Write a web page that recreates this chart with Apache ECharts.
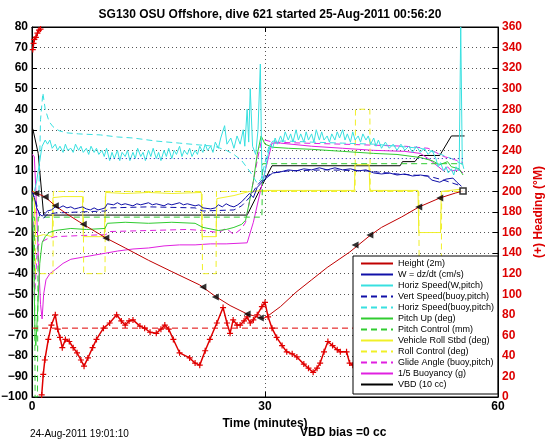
<!DOCTYPE html>
<html><head><meta charset="utf-8">
<script src="https://cdn.jsdelivr.net/npm/echarts@6/dist/echarts.min.js"></script>
<style>html,body{margin:0;padding:0;background:#fff}#c{width:546px;height:442px}</style>
</head><body><div id="c"></div>
<script>
// ---- data (time in minutes, values on left axis unless noted) ----
const xTicks = [0, 30, 60];
const height = [[0,0],[0.3,-0.5],[0.5,-1],[1.0,-1.5],[1.7,-2.7],[3.0,-7],[4.5,-11],[6.6,-16],[9.5,-22.6],[12,-27.5],[15,-33.5],[18,-39],[21.6,-45.5],[23.6,-51],[25.5,-55.5],[27.7,-59.6],[29.0,-61],[29.8,-61.8],[30.4,-60.5],[32,-56],[34,-49],[36,-43],[38,-37],[40.9,-29.5],[43.5,-21.5],[45,-17.5],[47.6,-12.4],[49.8,-7.6],[52.5,-3.2],[54.5,-0.8],[55.5,0.2]];
const heightMarks = [[0.5,-1],[1.7,-2.7],[3.0,-7],[6.6,-16],[9.5,-22.6],[22,-46.5],[23.6,-51.3],[27.7,-59.6],[29.4,-61.6],[41.6,-26],[43.5,-21.2],[49.8,-7.6],[52.5,-3.2]];
const heightEnd = [[55.5,0.2]];
const wSpeed = [[0,0],[0.3,-3],[0.6,-8],[1.0,-11],[1.3,-12],[1.6,-11],[2.0,-9.5],[2.5,-9],[3,-7.5],[3.5,-8],[4,-7],[4.5,-8],[5,-7.5],[5.5,-8.5],[6,-8],[6.5,-7.5],[7,-8.5],[7.5,-9],[8,-8],[8.5,-9],[9,-8.5],[9.4,-8],[9.7,-6],[10.5,-6.5],[11,-5.5],[11.5,-6.5],[12,-6],[13,-7],[13.5,-6],[14,-6.5],[15,-5.5],[15.5,-6.5],[16,-6],[17,-7],[17.5,-6],[18,-6.5],[19,-5.5],[19.5,-6.5],[20,-6],[21,-7],[21.5,-6.5],[22,-8],[23,-8.5],[23.6,-8],[24,-6.5],[24.5,-7.5],[25,-6],[25.5,-7],[26,-7.5],[26.5,-6.5],[27,-5],[27.5,-3],[28,-1],[28.5,-3],[29,2],[29.5,4],[30,6],[31,9],[32,9.5],[33,10.5],[34,10],[35,11],[36,10.5],[37,11.5],[38,10.5],[39,11.5],[40,10.5],[41,11],[42,10],[43,10.5],[44,9],[45,8.5],[46,9],[47,8],[48,8.5],[49,7.5],[50,8],[50.9,7.5],[51.5,5.5],[52.5,4.5],[53.3,6],[54.2,6.5],[54.7,4.5],[55.3,2.5]];
const horizW = [[0.3,0],[0.6,5],[1,15],[1.3,22],[1.7,25],[2,23],[2.3,25],[2.6,21],[3,23],[3.3,20],[3.6,22],[4,19],[4.3,23],[4.6,20],[5,21],[5.3,19],[5.6,23],[6,20],[6.3,22],[6.6,19],[7,21],[7.3,18],[7.6,22],[8,19],[8.3,21],[8.6,18],[9,20],[9.3,17],[9.6,21],[10,15],[10.3,19],[10.6,16],[11,20],[11.3,15],[11.6,19],[12,17],[12.3,20],[12.6,15],[13,19],[13.3,16],[13.6,21],[14,17],[14.3,19],[14.6,15],[15,20],[15.3,17],[15.6,21],[16,16],[16.3,19],[16.6,15],[17,20],[17.3,17],[17.6,21],[18,16],[18.3,20],[18.6,18],[19,22],[19.3,17],[19.6,20],[20,18],[20.3,21],[20.6,17],[21,20],[21.3,18],[21.6,22],[22,19],[22.3,23],[22.6,20],[23,22],[23.3,19],[23.6,24],[24,21],[24.3,26],[24.8,32],[25.1,23],[25.6,26],[26,21],[26.4,27],[26.8,23],[27.2,30],[27.4,22],[27.7,40],[27.9,24],[28.1,50],[28.4,22],[28.8,18],[29.1,30],[29.4,62],[29.6,8],[29.8,5],[30.1,12],[30.4,18],[30.7,23],[31,21],[31.3,26],[31.6,23],[32,27],[32.3,24],[32.6,29],[33,25],[33.3,28],[33.6,24],[34,30],[34.3,25],[34.6,28],[35,24],[35.3,29],[35.6,25],[36,28],[36.3,24],[36.6,30],[37,25],[37.3,29],[37.6,25],[38,27],[38.3,24],[38.6,28],[39,25],[39.3,29],[39.6,26],[40,30],[40.3,25],[40.6,28],[41,24],[41.3,29],[41.6,25],[42,27],[42.3,24],[42.6,28],[43,25],[43.3,27],[43.6,23],[44,26],[44.3,22],[44.6,25],[45,21],[45.5,24],[46,21],[46.5,23],[47,20],[47.5,23],[48,20],[48.5,22],[49,19],[49.5,22],[50,19],[50.5,21],[51,18],[51.5,20],[52,16],[52.3,12],[52.6,14],[53,10],[53.3,12],[53.6,9],[54,11],[54.3,8],[54.6,12],[55,10],[55.2,80],[55.4,14],[55.6,11]];
const vertBuoy = [[0,0],[0.5,-5],[1,-12],[1.5,-13],[2,-11],[3,-10.5],[6,-10],[9.5,-9.5],[10,-8],[15,-7.5],[21,-8],[22,-9.5],[26,-9],[27,-7],[28,-3],[29,3],[30,7],[31,9],[33,10],[38,10.5],[43,10],[47,8.5],[51,7.5],[53,5.5],[55,3]];
const horizBuoy = [[0.9,0],[1.1,35],[1.4,48],[1.7,40],[2.2,34],[2.7,31.5],[3.5,29.5],[4.5,28.5],[6,28],[8.8,27.5],[11,26.5],[13,26],[16,24.5],[19,23.5],[21.6,22.6],[23.5,22],[25,20],[26,18],[27,15],[28,10],[29,4],[29.5,6],[30,14],[30.5,22],[31,24.5],[33,24.5],[36,24],[40,23.5],[44,23],[47,22],[50,21],[52,19],[54,16],[55.5,13]];
const pitchUp = [[0,0],[0.2,-30],[0.4,-72],[0.5,-75],[0.7,-60],[1,-35],[1.3,-25],[1.7,-22],[2.2,-20],[3,-19],[5,-18],[7,-18.5],[9.4,-18],[9.7,-15.5],[12,-15],[15,-15.5],[18,-15],[21,-15.5],[22,-17.5],[24,-19],[25,-18.5],[26,-17.5],[27,-16],[27.5,-14],[28,-5],[28.5,5],[29,18],[29.5,27],[30,23],[31,21.5],[33,21],[36,20.5],[40,19.5],[44,18.5],[47,18],[50,16.5],[51.5,15],[52.5,13],[53.5,14.5],[54,12],[55,11],[55.5,8]];
const pitchCtl = [[0,-12.5],[0.3,-12.5],[0.4,-100],[0.7,-100],[0.8,-12.5],[27.6,-12.5],[29.6,-12.5],[29.7,13.5],[55.5,13.5]];
const roll = [[0,0],[0.3,-5],[0.45,-22],[1.5,-21],[2.6,-22],[2.7,-3],[4,-2.5],[6.5,-2.5],[6.6,-22],[9.3,-22],[9.5,-0.5],[12,-1],[15,-0.5],[18,-1],[21.8,-0.5],[21.9,-22],[23.7,-22],[23.8,-3.5],[26,-2],[28,0],[30,0.5],[35,0.5],[41.5,0.5],[41.6,13],[43.4,13],[43.5,0.5],[49.7,0.5],[49.8,-20],[52.6,-20],[52.7,0],[55,1],[55.5,0]];
const rollCtl = [[0,0],[0.4,0],[0.45,-40],[2.7,-40],[2.75,0],[6.6,0],[6.65,-40],[9.4,-40],[9.45,0],[21.9,0],[21.95,-40],[23.7,-40],[23.75,0],[41.6,0],[41.65,40],[43.5,40],[43.55,0],[49.8,0],[49.85,-40],[52.7,-40],[52.75,0],[55.5,0]];
const glide = [[0,0],[0.2,-20],[0.3,-53],[0.5,-40],[0.7,-27],[1,-25],[1.5,-24],[2,-23],[3,-22],[6,-21.5],[9.5,-21],[10,-19.5],[15,-19],[20,-18.5],[22,-19],[24,-20],[25,-18],[26,-21],[27,-18],[27.5,-15],[28,-5],[28.5,5],[29,15],[29.5,24],[30,25],[31,24],[35,23.5],[40,23],[44,22.5],[48,22],[51,21],[52,19],[53,17],[54,16],[55.5,14]];
const buoyancy = [[0,18],[0.3,17],[0.5,0],[0.8,-30],[1.1,-55],[1.3,-62],[1.5,-50],[1.8,-43],[2.3,-40],[3,-38],[4,-35],[5,-33],[6.5,-32],[8,-31],[9.5,-30],[11,-29],[13,-28],[15,-27.5],[17,-26.5],[19,-26],[21,-26],[23,-25.5],[25,-25.5],[27.7,-25],[28.5,-15],[29.7,5],[30.9,23.5],[32,23.5],[36,22],[40,21],[44,20],[48,19.5],[50,18.5],[51,16],[52,13],[53,10],[53.5,12],[54,10],[55,10.5],[55.5,9]];
const vbd = [[0.1,30.5],[0.8,18.5],[1.5,-11.5],[27.7,-11.5],[30.9,12.5],[47.4,12.5],[47.7,14.5],[49.3,14.5],[49.9,17.5],[52.5,17.5],[54,27],[55.7,27]];
const speedRef = [[9.5,16],[55.5,16]];
// heading, degrees on right axis
const headingTop = [[0.1,338],[0.2,344],[0.3,348],[0.5,350],[0.7,354],[0.9,357],[1.1,358]];
const heading = [[1.25,2],[1.45,22],[1.65,36],[2.1,56],[2.5,70],[3.0,80],[3.3,66],[3.6,58],[3.9,48],[4.3,56],[4.8,54],[5.3,48],[5.8,43],[6.3,36],[6.7,30],[7.2,38],[7.8,48],[8.3,56],[9.2,67],[10.0,72],[10.9,80],[11.5,74],[12.0,70],[12.5,74],[13.0,75],[13.9,69],[14.5,67],[15.2,63],[16.0,62],[16.6,66],[17.1,70],[17.6,66],[18.2,56],[19.0,43],[20.3,38],[21.0,33],[21.6,31],[22.3,45],[22.9,56],[23.8,72],[24.6,87],[25.1,72],[25.5,62],[25.9,75],[26.4,70],[26.8,70],[27.3,74],[27.7,78],[28.1,72],[28.5,75],[29.0,80],[29.6,88],[30.0,92],[30.4,78],[30.9,67],[31.5,58],[32.2,50],[32.8,44],[33.5,42],[34.1,39],[35.0,32],[35.6,28],[36.2,24],[36.7,28],[37.1,33],[37.6,44],[38.1,54],[38.7,50],[39.3,46],[39.7,44],[40.5,44],[40.9,33],[41.3,31]];
const headingRef = [[0,67],[55.5,67]];

const names = ['Height (2m)','W = dz/dt (cm/s)','Horiz Speed(W,pitch)','Vert Speed(buoy,pitch)','Horiz Speed(buoy,pitch)','Pitch Up (deg)','Pitch Control (mm)','Vehicle Roll Stbd (deg)','Roll Control (deg)','Glide Angle (buoy,pitch)','1/5 Buoyancy (g)','VBD (10 cc)'];

const DASH = [6,4];
function ln(name, data, color, dashed, extra) {
  return Object.assign({
    name, type: 'line', data, symbol: 'none', showSymbol: false,
    lineStyle: { color, width: 1, type: dashed ? DASH : 'solid' },
    itemStyle: { color }, animation: false, xAxisIndex: 0, yAxisIndex: 0
  }, extra || {});
}
const PLUS = 'path://M2,0H3V2H5V3H3V5H2V3H0V2H2Z';
const series = [
  ln(names[11], vbd, '#000000', false, {z: 2}),
  ln(names[10], buoyancy, '#e020e0', false),
  ln(names[9], glide, '#e020e0', true),
  ln(names[8], rollCtl, '#f0f028', true),
  ln(names[7], roll, '#f0f028', false),
  ln(names[6], pitchCtl, '#30cc30', true),
  ln(names[5], pitchUp, '#30cc30', false),
  ln(names[4], horizBuoy, '#38e0e0', true),
  ln(names[3], vertBuoy, '#1010a8', true),
  ln(names[2], horizW, '#38e0e0', false),
  ln(names[1], wSpeed, '#1010a8', false),
  ln('spdref', speedRef, '#1010a8', false, {lineStyle:{color:'#1010a8', width:1, type:[1,3]}}),
  ln(names[0], height, '#c00000', false, {z: 3}),
  { name: 'hmarks', type: 'scatter', data: heightMarks, symbol: 'triangle', symbolSize: 7, symbolRotate: 90,
    itemStyle: { color: '#000' }, z: 4, animation: false },
  { name: 'hend', type: 'scatter', data: heightEnd, symbol: 'rect', symbolSize: 6,
    itemStyle: { color: '#fff', borderColor: '#000', borderWidth: 1.5 }, z: 4, animation: false },
  ln('hdgref', headingRef, '#e00000', true, {yAxisIndex: 1}),
  { name: 'hdg1', type: 'line', yAxisIndex: 1, data: headingTop, symbol: PLUS, symbolSize: 6, showSymbol: true,
    lineStyle: { color: '#e00000', width: 1.5 }, itemStyle: { color: '#e00000' }, animation: false },
  { name: 'hdg2', type: 'line', yAxisIndex: 1, data: heading, symbol: PLUS, symbolSize: 6, showSymbol: true,
    lineStyle: { color: '#e00000', width: 1.5 }, itemStyle: { color: '#e00000' }, animation: false }
];

const fmtMinus = v => String(v).replace('-', '\u2212');
const chart = echarts.init(document.getElementById('c'), null, { renderer: 'canvas' });
chart.setOption({
  backgroundColor: '#fff',
  animation: false,
  title: { text: 'SG130 OSU Offshore, dive 621 started 25-Aug-2011 00:56:20', left: 265, textAlign: 'center', top: 4,
    textStyle: { fontFamily: 'Liberation Sans', fontSize: 12, fontWeight: 'bold', color: '#000' } },
  grid: { left: 32, right: 48, top: 27, bottom: 45, show: true, borderColor: '#000', borderWidth: 1, backgroundColor: '#fff',
    containLabel: false, outerBoundsMode: 'none' },
  xAxis: [{
    type: 'value', min: xTicks[0], max: xTicks[2], interval: 30, position: 'bottom',
    name: 'Time (minutes)', nameLocation: 'middle', nameGap: 20,
    nameTextStyle: { fontFamily: 'Liberation Sans', fontSize: 12, fontWeight: 'bold', color: '#000' },
    axisLine: { show: true, onZero: false, lineStyle: { color: '#000' } },
    axisTick: { inside: true, length: 5, lineStyle: { color: '#000' } },
    axisLabel: { fontFamily: 'Liberation Sans', fontSize: 12, fontWeight: 'bold', color: '#000', margin: 4 },
    splitLine: { show: true, lineStyle: { color: '#555', type: [1, 3] } }
  }, {
    type: 'value', min: xTicks[0], max: xTicks[2], interval: 30, position: 'top',
    axisLine: { show: true, onZero: false, lineStyle: { color: '#000' } },
    axisTick: { inside: true, length: 5, lineStyle: { color: '#000' } },
    axisLabel: { show: false }, splitLine: { show: false }
  }],
  yAxis: [{
    type: 'value', min: -100, max: 80, interval: 10, position: 'left',
    axisLine: { show: true, onZero: false, lineStyle: { color: '#000' } },
    axisTick: { show: true, inside: true, length: 5, lineStyle: { color: '#000' } },
    axisLabel: { fontFamily: 'Liberation Sans', fontSize: 12, fontWeight: 'bold', color: '#000', margin: 4, formatter: fmtMinus },
    splitLine: { show: true, lineStyle: { color: '#555', type: [1, 3] } }
  }, {
    type: 'value', min: 0, max: 360, interval: 20, position: 'right',
    name: '(+) Heading (\u00B0M)', nameLocation: 'middle', nameGap: 33, nameRotate: 90,
    nameTextStyle: { fontFamily: 'Liberation Sans', fontSize: 12, fontWeight: 'bold', color: '#dd0000' },
    axisLine: { show: true, onZero: false, lineStyle: { color: '#000' } },
    axisTick: { show: true, inside: true, length: 5, lineStyle: { color: '#000' } },
    axisLabel: { fontFamily: 'Liberation Sans', fontSize: 12, fontWeight: 'bold', color: '#dd0000', margin: 4 },
    splitLine: { show: false }
  }],
  legend: {
    data: names, orient: 'vertical', left: 353, top: 256,
    padding: [3, 4, 5, 7], itemGap: 2, itemWidth: 32, itemHeight: 8,
    backgroundColor: '#fff', borderColor: '#000', borderWidth: 1,
    itemStyle: { opacity: 0 },
    textStyle: { fontFamily: 'Liberation Sans', fontSize: 9, color: '#000' },
    selectedMode: false
  },
  graphic: [
    { type: 'text', left: 30, top: 429, style: { text: '24-Aug-2011 19:01:10', font: '10px "Liberation Sans"', fill: '#000' } },
    { type: 'text', left: 300, top: 427, style: { text: 'VBD bias =0 cc', font: 'bold 12px "Liberation Sans"', fill: '#000' } }
  ],
  series
});
</script></body></html>
